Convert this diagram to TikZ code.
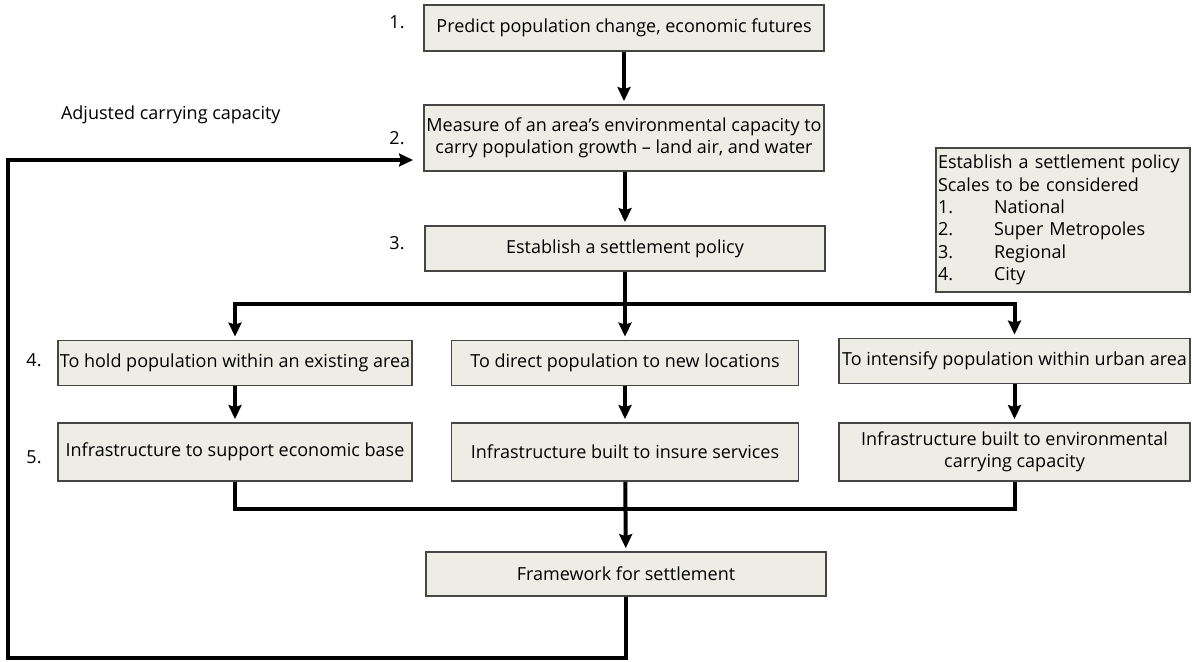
\documentclass[tikz,border=0pt]{standalone}
\usepackage{fontspec}
\setmainfont{Open Sans}
\usetikzlibrary{arrows.meta,positioning}
\definecolor{boxfill}{RGB}{237,237,229}
\definecolor{boxline}{RGB}{70,70,70}

\begin{document}
\begin{tikzpicture}[x=0.5pt,y=-0.5pt,
  box/.style={draw=boxline,line width=0.9pt,fill=boxfill,inner sep=1pt,align=center,
    font=\fontsize{9}{11}\selectfont},
  flow/.style={line width=2pt,-{Stealth[length=7pt,width=6.5pt,inset=1pt]},shorten >=1.5pt},
  link/.style={line width=2pt},
  lab/.style={font=\fontsize{9}{10}\selectfont}]
  \useasboundingbox (0,0) rectangle (1192,662);
  % main column
  \node[box,minimum width=200pt,minimum height=23pt] (predict) at (624,28)
    {Predict population change, economic futures};
  \node[box,minimum width=200pt,minimum height=33pt] (measure) at (624,138)
    {Measure of an area's environmental capacity to\\carry population growth -- land air, and water};
  \node[box,minimum width=200pt,minimum height=22.5pt] (policy) at (625,248.5)
    {Establish a settlement policy};
  % scales
  \node[box,align=left,minimum width=127pt,minimum height=72pt,text width=125pt,
    font=\fontsize{9}{11.2}\selectfont] (scales) at (1063,220)
    {Establish a settlement policy\\Scales to be considered\\
     \makebox[28pt][l]{1.}National\\\makebox[28pt][l]{2.}Super Metropoles\\
     \makebox[28pt][l]{3.}Regional\\\makebox[28pt][l]{4.}City};
  % options
  \node[box,minimum width=177pt,minimum height=22.5pt] (hold) at (235,363)
    {To hold population within an existing area};
  \node[box,minimum width=173.5pt,minimum height=22.5pt] (direct) at (625,363)
    {To direct population to new locations};
  \node[box,minimum width=175.5pt,minimum height=22.5pt] (intensify) at (1014.5,361)
    {To intensify population within urban area};
  % infrastructure
  \node[box,minimum width=177pt,minimum height=29pt] (support) at (235,452)
    {Infrastructure to support economic base};
  \node[box,minimum width=173.5pt,minimum height=29pt] (services) at (625,452)
    {Infrastructure built to insure services};
  \node[box,minimum width=175.5pt,minimum height=29pt] (environ) at (1014.5,452)
    {Infrastructure built to environmental\\carrying capacity};
  \node[box,minimum width=200pt,minimum height=22pt] (frame) at (626,574)
    {Framework for settlement};
  % labels
  \node[lab] (n1) at (397,22) {1.};
  \node[lab] (n2) at (397,138) {2.};
  \node[lab] (n3) at (397,243) {3.};
  \node[lab] (n4) at (34,360) {4.};
  \node[lab] (n5) at (34,457) {5.};
  \node[lab,anchor=west] (adjusted) at (54,115) {Adjusted carrying capacity};
  % arrows
  \coordinate (split) at (625,304);
  \coordinate (join) at (625,509);
  \coordinate (back) at (8,658);
  \coordinate (entry) at (413,160);
  \draw[flow] (predict) -- (measure);
  \draw[flow] (measure.south -| policy) -- (policy);
  \draw[flow] (policy) -- (direct);
  \draw[flow] (split) -| (hold);
  \draw[flow] (split) -| (intensify);
  \draw[flow] (hold) -- (support);
  \draw[flow] (direct) -- (services);
  \draw[flow] (intensify) -- (environ);
  \draw[link] (support) |- (join);
  \draw[link] (environ) |- (join);
  \draw[flow] (services) -- (frame);
  \draw[flow,shorten >=0pt] (frame) |- (back) |- (entry);
\end{tikzpicture}
\end{document}
